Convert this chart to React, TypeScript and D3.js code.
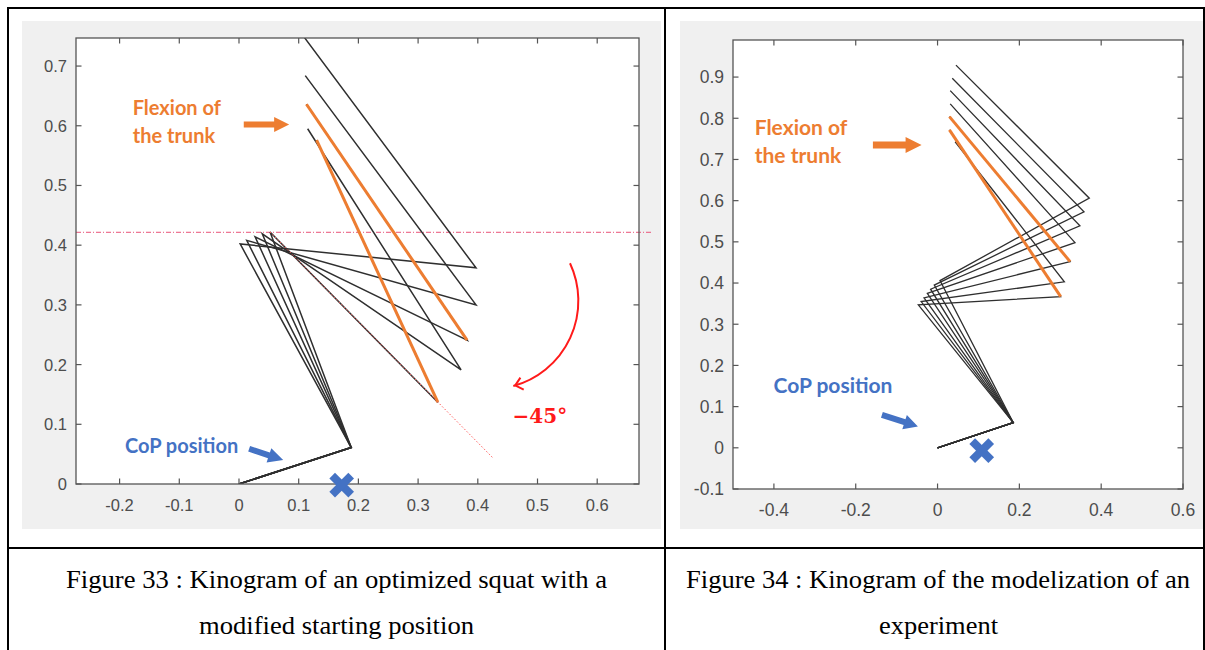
import React from "react";
import * as d3 from "d3";

// ---------------- Figure 33 data (optimized squat, modified start) ----------------
const fig33Toe = [0, 0];
const fig33Ankle = [0.188, 0.061];
const fig33KneeX = [0.002, 0.013, 0.027, 0.039, 0.052];
const fig33KneeY = [0.402, 0.408, 0.414, 0.419, 0.422];
const fig33HipX = [0.397, 0.397, 0.382, 0.372, 0.333];
const fig33HipY = [0.362, 0.3, 0.241, 0.191, 0.137];
const fig33HeadX = [0.108, 0.111, 0.113, 0.115, 0.13];
const fig33HeadY = [0.75, 0.684, 0.636, 0.595, 0.576];
const fig33Orange = [false, false, true, false, true];
const fig33XTicks = [-0.2, -0.1, 0, 0.1, 0.2, 0.3, 0.4, 0.5, 0.6];
const fig33YTicks = [0, 0.1, 0.2, 0.3, 0.4, 0.5, 0.6, 0.7];
const fig33XDomain = [-0.273, 0.67];
const fig33YDomain = [0, 0.747];
const fig33RefY = 0.4216;
const fig33RefXEnd = 0.693;
const fig33DiagEnd = [0.426, 0.043];
const fig33CoP = [0.172, -0.002];

// ---------------- Figure 34 data (modelization of an experiment) ----------------
const fig34Toe = [0, 0];
const fig34Ankle = [0.185, 0.061];
const fig34KneeX = [0.006, -0.008, -0.017, -0.025, -0.033, -0.04, -0.047];
const fig34KneeY = [0.406, 0.395, 0.385, 0.375, 0.364, 0.355, 0.347];
const fig34HipX = [0.371, 0.358, 0.348, 0.336, 0.324, 0.31, 0.301];
const fig34HipY = [0.606, 0.573, 0.539, 0.498, 0.452, 0.403, 0.367];
const fig34HeadX = [0.045, 0.036, 0.031, 0.031, 0.029, 0.043, 0.029];
const fig34HeadY = [0.929, 0.897, 0.867, 0.835, 0.804, 0.743, 0.772];
const fig34Orange = [false, false, false, false, true, false, true];
const fig34XTicks = [-0.4, -0.2, 0, 0.2, 0.4, 0.6];
const fig34YTicks = [-0.1, 0, 0.1, 0.2, 0.3, 0.4, 0.5, 0.6, 0.7, 0.8, 0.9];
const fig34XDomain = [-0.5, 0.6];
const fig34YDomain = [-0.1, 0.99];
const fig34CoP = [0.108, -0.007];

const captions33 = ["Figure 33 : Kinogram of an optimized squat with a", "modified starting position"];
const captions34 = ["Figure 34 : Kinogram of the modelization of an", "experiment"];

const ORANGE = "#ED7D31";
const BLUE = "#4472C4";
const AXIS = "#555555";
const LABEL = "#4d4d4d";
const LINE = "#2f2f2f";

function fmt(v: number) {
  if (Math.abs(v) < 1e-9) return "0";
  return String(Math.round(v * 10) / 10);
}

function arrowPoly(x1: number, y1: number, x2: number, y2: number, shaftW: number, headL: number, headW: number) {
  const dx = x2 - x1, dy = y2 - y1;
  const L = Math.hypot(dx, dy);
  const ux = dx / L, uy = dy / L;
  const nx = -uy, ny = ux;
  const bx = x2 - ux * headL, by = y2 - uy * headL;
  const pts = [
    [x1 + (nx * shaftW) / 2, y1 + (ny * shaftW) / 2],
    [bx + (nx * shaftW) / 2, by + (ny * shaftW) / 2],
    [bx + (nx * headW) / 2, by + (ny * headW) / 2],
    [x2, y2],
    [bx - (nx * headW) / 2, by - (ny * headW) / 2],
    [bx - (nx * shaftW) / 2, by - (ny * shaftW) / 2],
    [x1 - (nx * shaftW) / 2, y1 - (ny * shaftW) / 2],
  ];
  return pts.map((p) => p.join(",")).join(" ");
}

type KinoProps = {
  id: string;
  left: number; right: number; top: number; bottom: number;
  xDomain: number[]; yDomain: number[];
  xTicks: number[]; yTicks: number[];
  toe: number[]; ankle: number[];
  kneeX: number[]; kneeY: number[]; hipX: number[]; hipY: number[];
  headX: number[]; headY: number[]; orange: boolean[];
  fontSize: number;
  lineW: number;
  children?: (x: d3.ScaleLinear<number, number>, y: d3.ScaleLinear<number, number>) => React.ReactNode;
  under?: (x: d3.ScaleLinear<number, number>, y: d3.ScaleLinear<number, number>) => React.ReactNode;
};

function Kinogram(p: KinoProps) {
  const x = d3.scaleLinear().domain(p.xDomain).range([p.left, p.right]);
  const y = d3.scaleLinear().domain(p.yDomain).range([p.bottom, p.top]);
  const line = d3.line<number[]>().x((d) => x(d[0])).y((d) => y(d[1]));
  const frames = p.kneeX.map((_, i) => [
    p.toe,
    p.ankle,
    [p.kneeX[i], p.kneeY[i]],
    [p.hipX[i], p.hipY[i]],
    [p.headX[i], p.headY[i]],
  ]);
  const tl = 5.5;
  return (
    <g>
      <defs>
        <clipPath id={p.id}>
          <rect x={p.left} y={p.top} width={p.right - p.left} height={p.bottom - p.top} />
        </clipPath>
      </defs>
      <rect x={p.left} y={p.top} width={p.right - p.left} height={p.bottom - p.top} fill="#fff" />
      {p.under ? p.under(x, y) : null}
      <g clipPath={`url(#${p.id})`}>
        {frames.map((f, i) => (
          <path key={"b" + i} d={line(f) || ""} fill="none" stroke={LINE} strokeWidth={p.lineW} strokeLinejoin="miter" />
        ))}
        {frames.map((f, i) =>
          p.orange[i] ? (
            <path key={"o" + i} d={line([f[3], f[4]]) || ""} fill="none" stroke={ORANGE} strokeWidth={3} />
          ) : null
        )}
      </g>
      <rect x={p.left} y={p.top} width={p.right - p.left} height={p.bottom - p.top} fill="none" stroke={AXIS} strokeWidth={1.3} />
      {p.xTicks.map((t) => (
        <g key={"xt" + t}>
          <line x1={x(t)} x2={x(t)} y1={p.bottom} y2={p.bottom - tl} stroke={AXIS} strokeWidth={1.2} />
          <line x1={x(t)} x2={x(t)} y1={p.top} y2={p.top + tl} stroke={AXIS} strokeWidth={1.2} />
          <text x={x(t)} y={p.bottom + 27} textAnchor="middle" fontSize={p.fontSize} fill={LABEL}
            fontFamily="'Liberation Sans', Arial, sans-serif">{fmt(t)}</text>
        </g>
      ))}
      {p.yTicks.map((t) => (
        <g key={"yt" + t}>
          <line x1={p.left} x2={p.left + tl} y1={y(t)} y2={y(t)} stroke={AXIS} strokeWidth={1.2} />
          <line x1={p.right} x2={p.right - tl} y1={y(t)} y2={y(t)} stroke={AXIS} strokeWidth={1.2} />
          <text x={p.left - 9} y={y(t) + p.fontSize * 0.36} textAnchor="end" fontSize={p.fontSize} fill={LABEL}
            fontFamily="'Liberation Sans', Arial, sans-serif">{fmt(t)}</text>
        </g>
      ))}
      {p.children ? p.children(x, y) : null}
    </g>
  );
}

function CrossMark({ cx, cy }: { cx: number; cy: number }) {
  const s = 9.5;
  return (
    <g stroke={BLUE} strokeWidth={8}>
      <line x1={cx - s} y1={cy - s} x2={cx + s} y2={cy + s} />
      <line x1={cx - s} y1={cy + s} x2={cx + s} y2={cy - s} />
    </g>
  );
}

const ANNOT_FONT = "Lato, 'Open Sans', sans-serif";

export default function App() {
  const serif = "'Liberation Serif', 'Times New Roman', serif";
  return (
    <div style={{ position: "absolute", left: 0, top: 0 }}>
      <svg width={1205} height={650} style={{ display: "block" }}>
        <rect x={0} y={0} width={1205} height={650} fill="#fff" />
        <rect x={22} y={21} width={639} height={508} fill="#f0f0f0" />
        <rect x={680} y={21} width={523} height={508} fill="#f0f0f0" />

        <Kinogram
          id="clip33" left={76} right={639} top={38} bottom={484}
          xDomain={fig33XDomain} yDomain={fig33YDomain} xTicks={fig33XTicks} yTicks={fig33YTicks}
          toe={fig33Toe} ankle={fig33Ankle}
          kneeX={fig33KneeX} kneeY={fig33KneeY} hipX={fig33HipX} hipY={fig33HipY}
          headX={fig33HeadX} headY={fig33HeadY} orange={fig33Orange} fontSize={16.5} lineW={1.5}
          under={(x, y) => (
            <g>
              <line x1={x(fig33XDomain[0])} x2={x(fig33RefXEnd)} y1={y(fig33RefY)} y2={y(fig33RefY)}
                stroke="#e8537a" strokeWidth={1} strokeDasharray="5 2 1 2" />
            </g>
          )}
        >
          {(x, y) => {
            const k = fig33KneeX.length - 1;
            const cx = x(0.4204), cy = y(0.3069), r = x(0.148) - x(0);
            const a0 = (-25.1 * Math.PI) / 180, a1 = (74.7 * Math.PI) / 180;
            const pth = d3.path();
            pth.arc(cx, cy, r, a0, a1, false);
            const ex = cx + r * Math.cos(a1), ey = cy + r * Math.sin(a1);
            const tx = -Math.sin(a1), ty = Math.cos(a1);
            const wing = (ang: number) => {
              const c = Math.cos(ang), s = Math.sin(ang);
              const bx = -tx, by = -ty;
              return [ex + 11 * (bx * c - by * s), ey + 11 * (bx * s + by * c)];
            };
            const w1 = wing(0.6), w2 = wing(-0.6);
            return (
              <g>
                <line x1={x(fig33KneeX[k])} y1={y(fig33KneeY[k])} x2={x(fig33DiagEnd[0])} y2={y(fig33DiagEnd[1])}
                  stroke="#ff5a5a" strokeWidth={1} strokeDasharray="1.5 2" />
                <path d={pth.toString()} fill="none" stroke="#ff1a1a" strokeWidth={2} />
                <path d={`M${w1[0]},${w1[1]} L${ex - tx * 2},${ey - ty * 2} L${w2[0]},${w2[1]}`} fill="none" stroke="#ff1a1a" strokeWidth={2} />
                <text x={x(0.504)} y={y(0.102)} textAnchor="middle" fontSize={20} fontWeight="bold"
                  fontFamily="'DejaVu Serif', serif" fill="#ff1a1a">−45°</text>
                <text x={x(-0.178)} y={y(0.618)} fontSize={20} fontWeight={700} fill={ORANGE} fontFamily={ANNOT_FONT}>Flexion of</text>
                <text x={x(-0.178)} y={y(0.571)} fontSize={20} fontWeight={700} fill={ORANGE} fontFamily={ANNOT_FONT}>the trunk</text>
                <polygon points={arrowPoly(x(0.008), y(0.602), x(0.084), y(0.602), 6, 15, 15)} fill={ORANGE} />
                <text x={x(-0.191)} y={y(0.052)} fontSize={20} fontWeight={700} fill={BLUE} fontFamily={ANNOT_FONT}>CoP position</text>
                <polygon points={arrowPoly(x(0.017), y(0.059), x(0.074), y(0.04), 6, 15, 15)} fill={BLUE} />
                <CrossMark cx={x(fig33CoP[0])} cy={y(fig33CoP[1])} />
              </g>
            );
          }}
        </Kinogram>

        <Kinogram
          id="clip34" left={733} right={1183} top={40} bottom={489}
          xDomain={fig34XDomain} yDomain={fig34YDomain} xTicks={fig34XTicks} yTicks={fig34YTicks}
          toe={fig34Toe} ankle={fig34Ankle}
          kneeX={fig34KneeX} kneeY={fig34KneeY} hipX={fig34HipX} hipY={fig34HipY}
          headX={fig34HeadX} headY={fig34HeadY} orange={fig34Orange} fontSize={17.5} lineW={1.3}
        >
          {(x, y) => (
            <g>
              <text x={x(-0.447)} y={y(0.759)} fontSize={21} fontWeight={700} fill={ORANGE} fontFamily={ANNOT_FONT}>Flexion of</text>
              <text x={x(-0.447)} y={y(0.691)} fontSize={21} fontWeight={700} fill={ORANGE} fontFamily={ANNOT_FONT}>the trunk</text>
              <polygon points={arrowPoly(x(-0.158), y(0.735), x(-0.039), y(0.735), 7, 16, 16)} fill={ORANGE} />
              <text x={x(-0.401)} y={y(0.133)} fontSize={21} fontWeight={700} fill={BLUE} fontFamily={ANNOT_FONT}>CoP position</text>
              <polygon points={arrowPoly(x(-0.136), y(0.08), x(-0.048), y(0.052), 6, 14, 15)} fill={BLUE} />
              <CrossMark cx={x(fig34CoP[0])} cy={y(fig34CoP[1])} />
            </g>
          )}
        </Kinogram>

        <rect x={8} y={8} width={1196} height={660} fill="none" stroke="#000" strokeWidth={2} />
        <line x1={665} x2={665} y1={8} y2={650} stroke="#000" strokeWidth={2} />
        <line x1={8} x2={1204} y1={548} y2={548} stroke="#000" strokeWidth={2} />

        <text x={66} y={588} fontSize={26} fontFamily={serif} textLength={541} lengthAdjust="spacingAndGlyphs">{captions33[0]}</text>
        <text x={199} y={634} fontSize={26} fontFamily={serif} textLength={275} lengthAdjust="spacingAndGlyphs">{captions33[1]}</text>
        <text x={686} y={588} fontSize={26} fontFamily={serif} textLength={504} lengthAdjust="spacingAndGlyphs">{captions34[0]}</text>
        <text x={879} y={634} fontSize={26} fontFamily={serif} textLength={119} lengthAdjust="spacingAndGlyphs">{captions34[1]}</text>
      </svg>
    </div>
  );
}
